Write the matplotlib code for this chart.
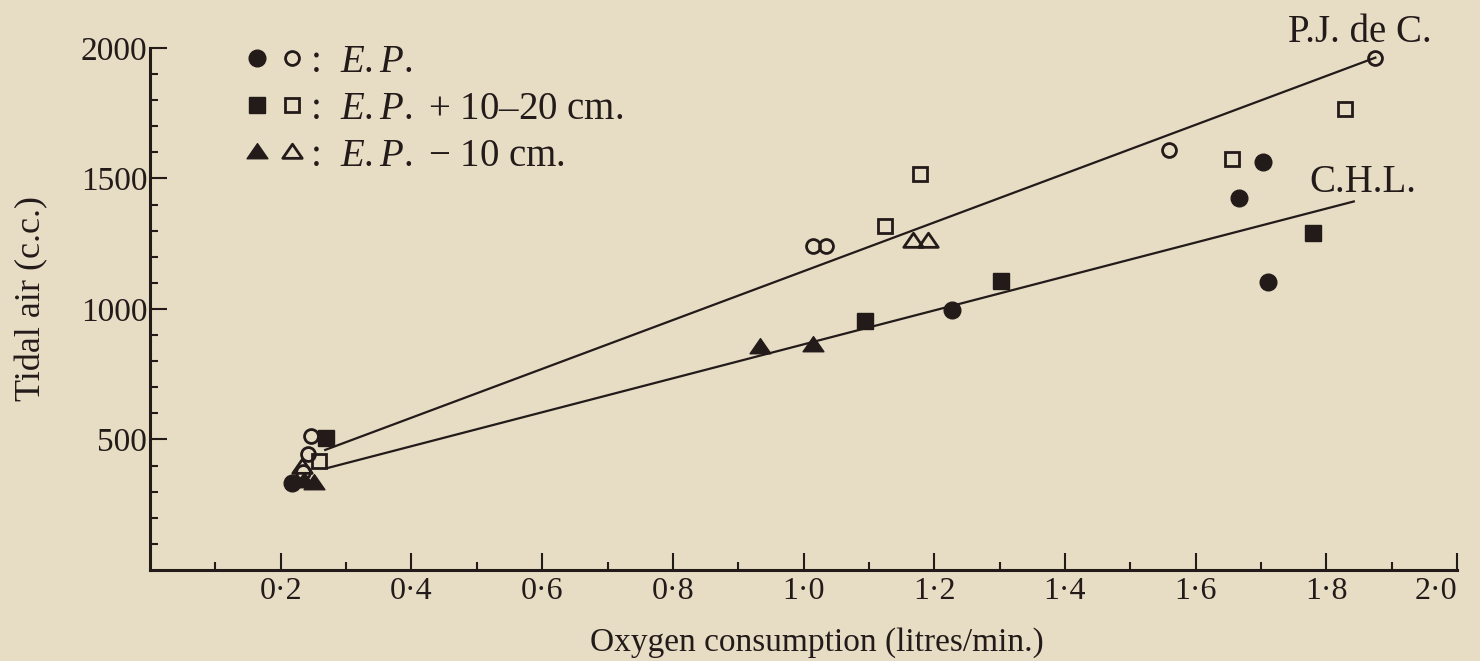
import matplotlib
matplotlib.use("Agg")
import matplotlib.pyplot as plt
from matplotlib.lines import Line2D
from matplotlib.path import Path
from matplotlib.legend_handler import HandlerTuple

# valeurs (O2 en l/min, air courant en c.c.)
fc_x = [0.217, 1.227, 1.667, 1.703, 1.711]
fc_y = [334, 997, 1425, 1562, 1105]
oc_x = [0.246, 0.242, 0.234, 1.014, 1.035, 1.559, 1.875]
oc_y = [514, 445, 376, 1242, 1242, 1610, 1963]
fs_x = [0.269, 1.094, 1.302, 1.780]
fs_y = [506, 955, 1108, 1293]
os_x = [0.259, 1.125, 1.178, 1.655, 1.829]
os_y = [418, 1319, 1518, 1575, 1766]
ft_x = [0.236, 0.251, 0.933, 1.014]
ft_y = [341, 334, 856, 863]
ot_x = [0.233, 1.167, 1.191]
ot_y = [395, 1259, 1259]

# droites de regression (extremites)
pj_x = [0.268, 1.875]
pj_y = [460, 1963]
chl_x = [0.272, 1.842]
chl_y = [391, 1412]

xticks = [0.2, 0.4, 0.6, 0.8, 1.0, 1.2, 1.4, 1.6, 1.8, 2.0]
xtick_labels = ["0·2", "0·4", "0·6", "0·8", "1·0", "1·2", "1·4", "1·6", "1·8", "2·0"]
yticks = [500, 1000, 1500, 2000]

ink = "#231a1a"
paper = "#e7ddc4"

plt.rcParams["font.family"] = ["Liberation Serif", "DejaVu Serif"]
plt.rcParams["mathtext.fontset"] = "custom"
plt.rcParams["mathtext.it"] = "Liberation Serif:italic"
plt.rcParams["mathtext.rm"] = "Liberation Serif"

fig = plt.figure(figsize=(14.8, 6.61), dpi=100, facecolor=paper)
ax = fig.add_axes([0.1014, 0.1377, 0.8831, 0.7897])
ax.set_facecolor(paper)

# triangle un peu aplati, ferme
tri = Path([(-1, -0.6), (1, -0.6), (0, 0.85), (-1, -0.6)], closed=True)

ax.plot(pj_x, pj_y, color=ink, lw=1.6)
ax.plot(chl_x, chl_y, color=ink, lw=1.6)

ax.plot(fc_x, fc_y, "o", ms=12, mfc=ink, mec=ink, mew=1)
ax.plot(oc_x, oc_y, "o", ms=10, mfc="none", mec=ink, mew=2)
ax.plot(fs_x, fs_y, "s", ms=11, mfc=ink, mec=ink, mew=1)
ax.plot(os_x, os_y, "s", ms=10, mfc="none", mec=ink, mew=2)
ax.plot(ft_x, ft_y, marker=tri, ls="none", ms=15, mfc=ink, mec=ink, mew=1)
ax.plot(ot_x, ot_y, marker=tri, ls="none", ms=14, mfc="none", mec=ink, mew=2)

ax.annotate("P.J. de C.", xy=(pj_x[-1], pj_y[-1]), xytext=(-63, 11),
            textcoords="offset points", ha="left", va="baseline",
            fontsize=28, color=ink, annotation_clip=False)
ax.annotate("C.H.L.", xy=(chl_x[-1], chl_y[-1]), xytext=(-32, 7),
            textcoords="offset points", ha="left", va="baseline",
            fontsize=28, color=ink, annotation_clip=False)

ax.set_xlim(0, 2.0)
ax.set_ylim(0, 2000)
ax.set_xticks(xticks)
ax.set_xticklabels(xtick_labels)
ax.set_xticks([0.1, 0.3, 0.5, 0.7, 0.9, 1.1, 1.3, 1.5, 1.7, 1.9], minor=True)
ax.set_yticks(yticks)
ax.set_yticks([100, 200, 300, 400, 600, 700, 800, 900, 1100, 1200, 1300,
               1400, 1600, 1700, 1800, 1900], minor=True)
ax.tick_params(which="major", direction="in", length=12, width=1.5,
               color=ink, labelcolor=ink, labelsize=24)
ax.tick_params(axis="x", which="major", pad=5, labelsize=23)
ax.tick_params(axis="y", which="major", pad=2)
ax.tick_params(which="minor", direction="in", length=5.5, width=1.5, color=ink)
# le dernier libelle "2·0" reste dans la figure
ax.get_xticklabels()[-1].set_horizontalalignment("right")
ax.get_xticklabels()[-1].set_x(2.0)

for s in ["top", "right"]:
    ax.spines[s].set_visible(False)
for s in ["left", "bottom"]:
    ax.spines[s].set_linewidth(2.2)
    ax.spines[s].set_color(ink)

ax.set_xlabel("Oxygen consumption (litres/min.)", fontsize=24, color=ink)
ax.xaxis.set_label_coords(0.51, -0.11)
ax.set_ylabel("Tidal air (c.c.)", fontsize=26, color=ink)
ax.yaxis.set_label_coords(-0.078, 0.52)

# legende avec symboles plein/vide
h_c = (Line2D([], [], marker="o", ls="none", ms=12, mfc=ink, mec=ink),
       Line2D([], [], marker="o", ls="none", ms=10, mfc="none", mec=ink, mew=2))
h_s = (Line2D([], [], marker="s", ls="none", ms=11, mfc=ink, mec=ink),
       Line2D([], [], marker="s", ls="none", ms=10, mfc="none", mec=ink, mew=2))
h_t = (Line2D([], [], marker=tri, ls="none", ms=15, mfc=ink, mec=ink),
       Line2D([], [], marker=tri, ls="none", ms=14, mfc="none", mec=ink, mew=2))
leg = ax.legend([h_c, h_s, h_t],
                [":  $E.P.$", ":  $E.P.$ + 10–20 cm.", ":  $E.P.$ − 10 cm."],
                handler_map={tuple: HandlerTuple(ndivide=None, pad=0.25)},
                loc="upper left", bbox_to_anchor=(0.072, 1.008),
                frameon=False, fontsize=28, handlelength=1.55,
                handletextpad=0.15, labelspacing=0.26, borderpad=0,
                borderaxespad=0, labelcolor=ink)

fig.savefig("out.png", dpi=100, facecolor=paper)
